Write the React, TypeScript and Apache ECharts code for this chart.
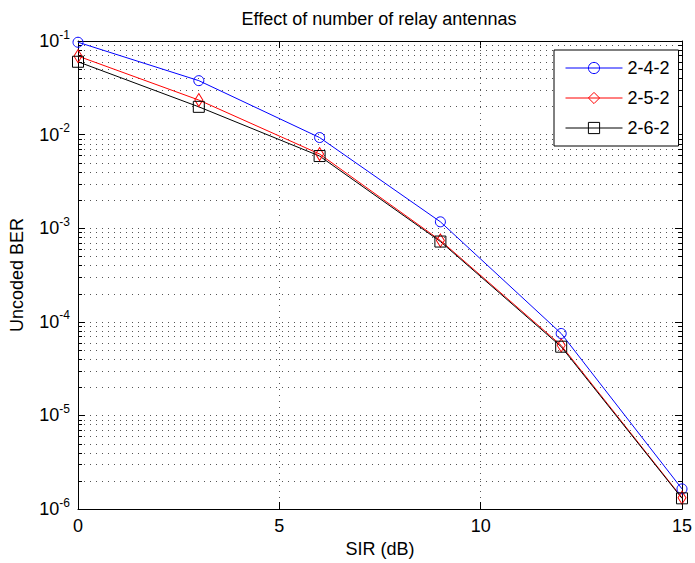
import React, { useEffect, useRef } from "react";
import * as echarts from "echarts";

const sirDb = [0, 3, 6, 9, 12, 15];
const ber242 = [0.097, 0.0377, 0.0093, 0.00117, 0.000075, 0.00000164];
const ber252 = [0.069, 0.0234, 0.0062, 0.00074, 0.000056, 0.00000132];
const ber262 = [0.06, 0.0198, 0.0059, 0.00072, 0.0000542, 0.0000013];
const seriesNames = ["2-4-2", "2-5-2", "2-6-2"];
const xTicks = { min: 0, max: 15, interval: 5 };
const yRange = { min: 1e-6, max: 1e-1 };
const decadeExps = [-6, -5, -4, -3, -2];
const minorMultipliers = [2, 3, 4, 5, 6, 7, 8, 9];

const FONT = "'Liberation Sans', Arial, Helvetica, sans-serif";
const FS = 18;

export default function App() {
  const ref = useRef<HTMLDivElement>(null);
  useEffect(() => {
    if (!ref.current) return;
    const chart = echarts.init(ref.current, null, { renderer: "svg" });

    const minorValues: number[][] = [];
    decadeExps.forEach((e) => {
      minorMultipliers.forEach((m) => {
        minorValues.push([0, Number((m * Math.pow(10, e)).toPrecision(3))]);
      });
    });

    const dotted = { color: "#555", width: 1, type: [1, 5] as any };
    const axisLine = { show: true, onZero: false, lineStyle: { color: "#000", width: 1 } };

    const mkLine = (name: string, data: number[], color: string, symbol: string, size: any) => ({
      name,
      type: "line",
      data: sirDb.map((x, i) => [x, data[i]]),
      symbol,
      symbolSize: size,
      lineStyle: { color, width: 1 },
      itemStyle: { color: "transparent", borderColor: color, borderWidth: 1 },
      z: 5,
      silent: true,
    });

    chart.setOption({
      animation: false,
      textStyle: { fontFamily: FONT },
      grid: { left: 76, top: 41, width: 610, height: 472, containLabel: false },
      graphic: [
        {
          type: "text",
          x: 379,
          y: 19,
          style: {
            text: "Effect of number of relay antennas",
            font: `${FS}px ${FONT}`,
            fill: "#000",
            textAlign: "center",
            textVerticalAlign: "middle",
          },
        },
      ],
      legend: {
        data: seriesNames,
        orient: "vertical",
        left: 554,
        top: 50,
        itemWidth: 57,
        itemHeight: 14,
        itemGap: 12,
        padding: [9, 9, 9, 11],
        backgroundColor: "#fff",
        borderColor: "#000",
        borderWidth: 1,
        borderRadius: 0,
        itemStyle: { borderWidth: 1 },
        lineStyle: { width: 1 },
        textStyle: { fontSize: FS, color: "#000", lineHeight: 14, fontFamily: FONT },
        selectedMode: false,
        z: 20,
      },
      xAxis: [
        {
          type: "value",
          min: xTicks.min,
          max: xTicks.max,
          interval: xTicks.interval,
          name: "SIR (dB)",
          nameLocation: "middle",
          nameGap: 31,
          nameTextStyle: { fontSize: FS, color: "#000", fontFamily: FONT },
          axisLine,
          axisTick: { inside: true, length: 7, lineStyle: { color: "#000" } },
          axisLabel: { fontSize: FS, color: "#000", margin: 8, fontFamily: FONT },
          splitLine: { show: true, lineStyle: dotted },
        },
        {
          type: "value",
          position: "top",
          min: xTicks.min,
          max: xTicks.max,
          interval: xTicks.interval,
          axisLine,
          axisTick: { inside: true, length: 7, lineStyle: { color: "#000" } },
          axisLabel: { show: false },
          splitLine: { show: false },
        },
      ],
      yAxis: [
        {
          type: "log",
          logBase: 10,
          min: yRange.min,
          max: yRange.max,
          name: "Uncoded BER",
          nameLocation: "middle",
          nameGap: 52,
          nameTextStyle: { fontSize: FS, color: "#000", fontFamily: FONT },
          axisLine,
          axisTick: { inside: true, length: 7, lineStyle: { color: "#000" } },
          axisLabel: {
            margin: 8,
            formatter: (v: number) => `{b|10}{s|${Math.round(Math.log10(v))}}`,
            rich: {
              b: { fontSize: FS, color: "#000", fontFamily: FONT },
              s: { fontSize: 12, color: "#000", fontFamily: FONT, padding: [0, 0, 13, 0] },
            },
          },
          splitLine: { show: true, lineStyle: dotted },
        },
        {
          type: "log",
          logBase: 10,
          position: "right",
          min: yRange.min,
          max: yRange.max,
          axisLine,
          axisTick: { inside: true, length: 7, lineStyle: { color: "#000" } },
          axisLabel: { show: false },
          splitLine: { show: false },
        },
      ],
      series: [
        {
          name: "minor",
          type: "custom",
          silent: true,
          z: 1,
          clip: false,
          encode: { x: 0, y: 1 },
          data: minorValues,
          renderItem: (params: any, api: any) => {
            const v = api.value(1);
            const pt = api.coord([0, v]);
            const cs = params.coordSys;
            const y = Math.round(pt[1]) + 0.5;
            return {
              type: "group",
              children: [
                {
                  type: "line",
                  shape: { x1: cs.x, y1: y, x2: cs.x + cs.width, y2: y },
                  style: { stroke: "#555", lineWidth: 1, lineDash: [1, 5] },
                },
                {
                  type: "line",
                  shape: { x1: cs.x, y1: y, x2: cs.x + 4, y2: y },
                  style: { stroke: "#000", lineWidth: 1 },
                },
                {
                  type: "line",
                  shape: { x1: cs.x + cs.width - 4, y1: y, x2: cs.x + cs.width, y2: y },
                  style: { stroke: "#000", lineWidth: 1 },
                },
              ],
            };
          },
        },
        mkLine(seriesNames[0], ber242, "#0000ff", "circle", 10),
        mkLine(seriesNames[1], ber252, "#ff0000", "diamond", [8, 13]),
        mkLine(seriesNames[2], ber262, "#000000", "rect", 11),
      ],
    });
    return () => chart.dispose();
  }, []);
  return (
    <div
      ref={ref}
      style={{ position: "fixed", left: 0, top: 0, width: 695, height: 563, background: "#fff" }}
    />
  );
}
